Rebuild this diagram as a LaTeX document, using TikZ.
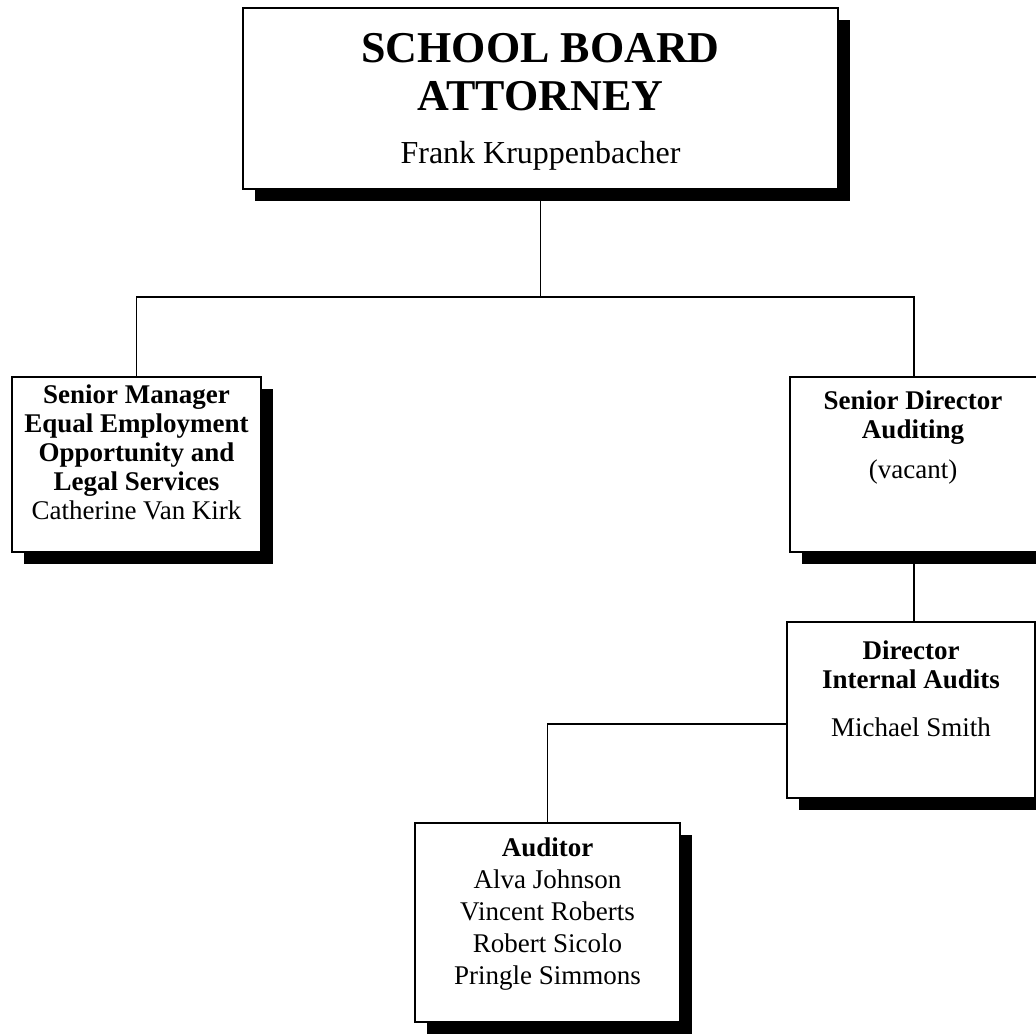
\documentclass[tikz,border=0pt]{standalone}
\usepackage{fontspec}
\setmainfont{Liberation Serif}
\usetikzlibrary{shadows}

\tikzset{
  orgbox/.style={draw=black, fill=white, line width=0.6pt, inner sep=0pt,
    general shadow={fill=black, shadow xshift=6pt, shadow yshift=-6pt}},
  boxtext/.style={anchor=north, align=center, inner sep=0pt,
    font=\fontsize{13.5}{14.5}\selectfont},
  link/.style={draw=black, line width=0.6pt}
}

\begin{document}
\begin{tikzpicture}[x=0.5pt, y=-0.5pt]
		\useasboundingbox (0,0) rectangle (1036,1034);

		% frames
		\node[orgbox, minimum width=297.5pt, minimum height=90.5pt] (attorney) at (540.5,98.5) {};
		\node[orgbox, minimum width=124.5pt, minimum height=87.5pt] (eeo) at (136.5,464.5) {};
		\node[orgbox, minimum width=124pt, minimum height=87.5pt] (sdir) at (914,464.5) {};
		\node[orgbox, minimum width=124pt, minimum height=88pt] (dir) at (911,710) {};
		\node[orgbox, minimum width=132.5pt, minimum height=99.5pt] (auditor) at (547.5,922.5) {};

		% texts
		\node[boxtext, font=\fontsize{22}{24}\selectfont\bfseries] (attorneytitle) at (540.5,33) {SCHOOL BOARD\\ATTORNEY};
		\node[boxtext, font=\fontsize{16}{18}\selectfont] (attorneyname) at (540.5,141) {Frank Kruppenbacher};
		\node[boxtext] (eeotext) at (136.5,384) {\textbf{Senior Manager}\\\textbf{Equal Employment}\\\textbf{Opportunity and}\\\textbf{Legal Services}\\Catherine Van Kirk};
		\node[boxtext] (sdirtext) at (913,390) {\textbf{Senior Director}\\\textbf{Auditing}\\[5.5pt](vacant)};
		\node[boxtext] (dirtext) at (911,640) {\textbf{Director}\\\textbf{Internal Audits}\\[9.5pt]Michael Smith};
		\node[boxtext, font=\fontsize{13.5}{16}\selectfont] (audtext) at (547.5,837) {\textbf{Auditor}\\Alva Johnson\\Vincent Roberts\\Robert Sicolo\\Pringle Simmons};

		% connectors
		\coordinate (bus) at (544,297);
		\draw[link] (attorney.south) -- (attorney.south |- bus);
		\draw[link] (eeo.north) |- (bus) -| (sdir.north);
		\draw[link] (sdir.south) -- (sdir.south |- dir.north);
		\draw[link] ([yshift=-7pt]dir.west) -| (auditor.north);
	\end{tikzpicture}
\end{document}
